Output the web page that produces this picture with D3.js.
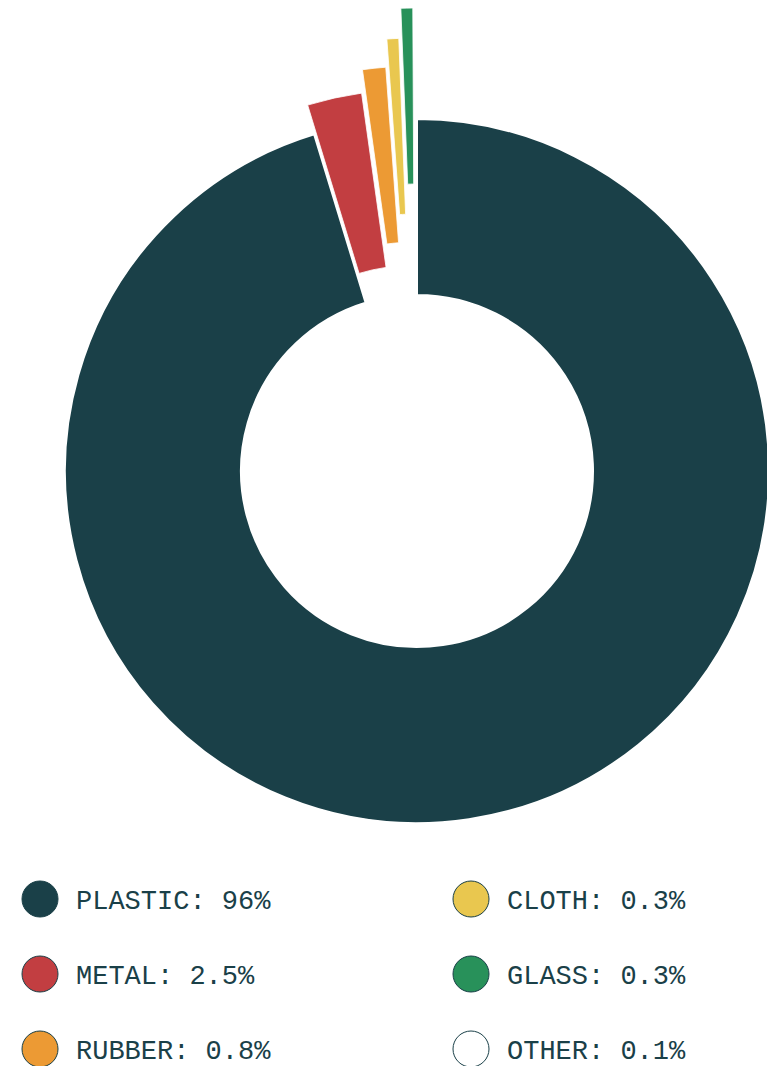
<!DOCTYPE html>
<html lang="en">
<head>
<meta charset="utf-8">
<title>Materials donut</title>
<script src="https://cdn.jsdelivr.net/npm/d3@7"></script>
<style>
  body { margin: 0; background: #fff; }
  text { font-family: "Liberation Mono", "DejaVu Sans Mono", monospace; fill: #1a4048; }
</style>
</head>
<body>
<script>
// data
var materials = ["PLASTIC", "METAL", "RUBBER", "CLOTH", "GLASS", "OTHER"];
var labels = ["96%", "2.5%", "0.8%", "0.3%", "0.3%", "0.1%"];
// slice sizes as drawn (the small ones are drawn wider than their label says)
var sliceShares = [95.3, 2.5, 1.06, 0.54, 0.54, 0.08];
var colors = ["#1a4048", "#c23e41", "#ec9a34", "#e9c74f", "#28915a", "#ffffff"];

// how far each small slice is pulled out along its middle (px)
var pushOut = [0, 30, 53, 81, 111, 140];

var w = 767, h = 1066;
var cx = 417, cy = 471;
var rIn = 176, rOut = 352;

var svg = d3.select("body").append("svg")
    .attr("width", w)
    .attr("height", h);

var pie = d3.pie()
    .sort(null)
    .value(function(d) { return d; });

var arcs = pie(sliceShares);

var arc = d3.arc()
    .innerRadius(rIn)
    .outerRadius(rOut);

var g = svg.append("g").attr("transform", "translate(" + cx + "," + cy + ")");

g.selectAll("path")
  .data(arcs)
  .enter()
  .append("path")
  .attr("d", arc)
  .attr("transform", function(d, i) {
      var mid = (d.startAngle + d.endAngle) / 2;
      return "translate(" + (Math.sin(mid) * pushOut[i]) + "," + (-Math.cos(mid) * pushOut[i]) + ")";
  })
  .attr("fill", function(d, i) { return colors[i]; })
  .attr("stroke", "#fff")
  .attr("stroke-width", function(d, i) { return i === 0 ? 2 : 0.8; });

// legend, two columns of three
var colX = d3.scaleOrdinal().domain([0, 1]).range([40, 471]);
var rowY = d3.scaleLinear().domain([0, 2]).range([899, 1049]);

var leg = svg.selectAll(".leg")
  .data(materials)
  .enter()
  .append("g")
  .attr("class", "leg")
  .attr("transform", function(d, i) {
      return "translate(" + colX(Math.floor(i / 3)) + "," + rowY(i % 3) + ")";
  });

leg.append("circle")
  .attr("r", 18)
  .attr("fill", function(d, i) { return colors[i]; })
  .attr("stroke", "#1a4048")
  .attr("stroke-width", 1);

leg.append("text")
  .attr("x", 36)
  .attr("y", 10)
  .attr("font-size", 27)
  .text(function(d, i) { return d + ": " + labels[i]; });
</script>
</body>
</html>
